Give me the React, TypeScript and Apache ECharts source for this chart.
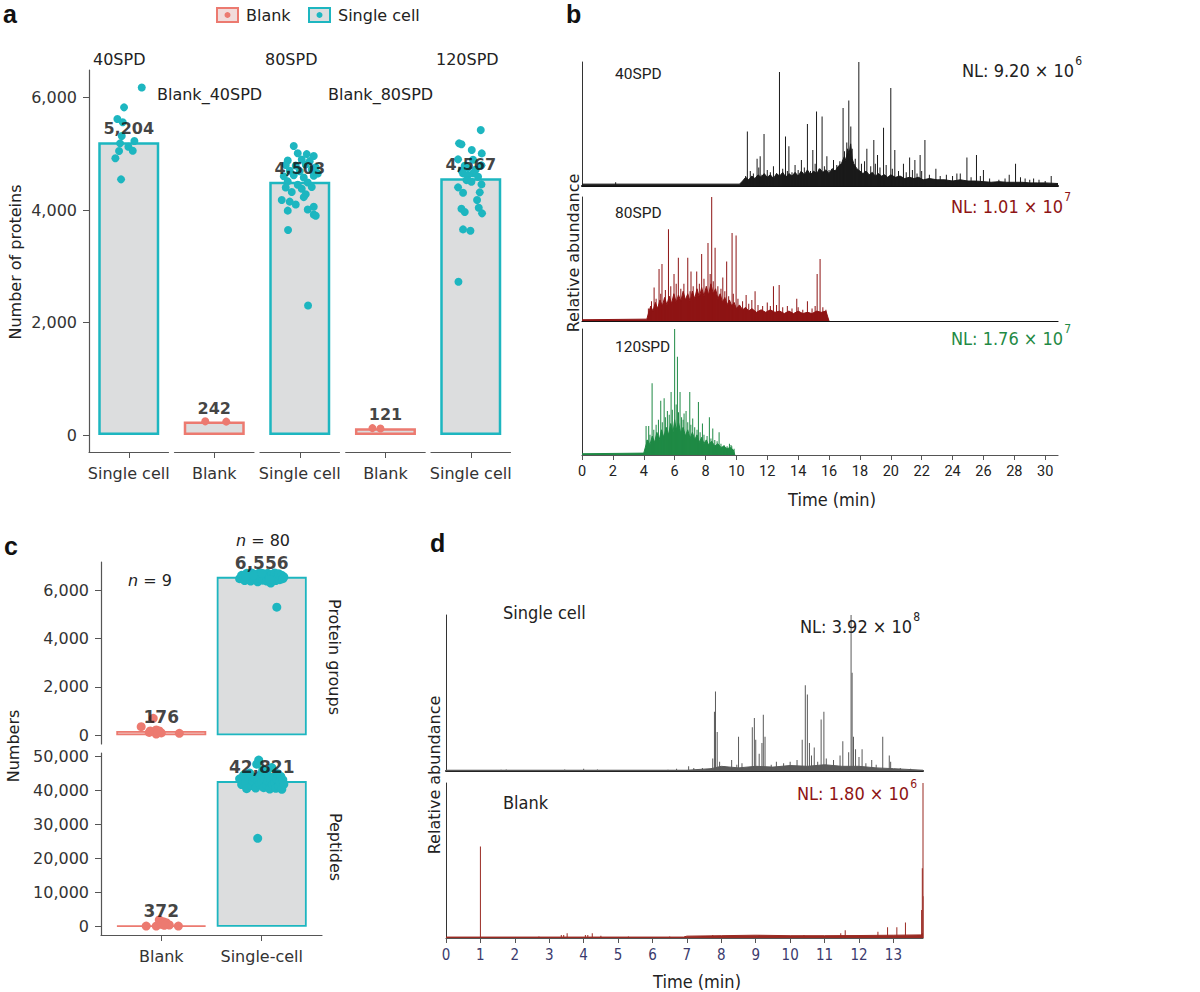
import React, { useEffect, useRef } from 'react';
import * as echarts from 'echarts';

// ---------- fonts & colours ----------
const FONT = '"DejaVu Sans", "Noto Sans", sans-serif';
const CFONT = '"Liberation Sans Narrow", "DejaVu Sans Condensed", "Roboto Condensed", Roboto, sans-serif';
const TFONT = 'Roboto, "Noto Sans", sans-serif';
const TEAL = '#1db6c0';
const SALMON = '#ec7a70';
const BARFILL = '#dcddde';

// ---------- panel a data ----------
const aCats = ['Single cell', 'Blank', 'Single cell', 'Blank', 'Single cell'];
const aStrips = ['40SPD', 'Blank_40SPD', '80SPD', 'Blank_80SPD', '120SPD'];
const aGroup = ['sc', 'blank', 'sc', 'blank', 'sc'];
const aBarValues = [5204, 242, 4503, 121, 4567];
const aTicks = [0, 2000, 4000, 6000];
// jitter offsets (px from bar centre), protein counts
const aDots40 = [[13, 6180], [-4.7, 5826], [-11.4, 5618], [-7, 5316], [5.6, 5227], [-8.7, 5186], [-0.4, 5126], [4, 5055], [-9.7, 5049], [-13.4, 4920], [-7.7, 4546], [-6, 5560]];
const aDotsBlank40 = [[-9, 245], [12, 240]];
const aDots80 = [[-6, 5138], [-2, 5010], [7, 4995], [14, 4960], [-12, 4880], [2, 4900], [10, 4870], [-14, 4800], [-4, 4790], [6, 4810], [16, 4760], [-10, 4700], [0, 4690], [12, 4720], [18, 4650], [-16, 4600], [-6, 4620], [4, 4580], [14, 4610], [-12, 4510], [8, 4490], [-2, 4450], [-14, 4400], [2, 4380], [12, 4410], [-8, 4320], [6, 4280], [-18, 4180], [-10, 4150], [4, 4230], [-4, 4100], [14, 4060], [-12, 3990], [8, 4010], [14, 3920], [16, 3900], [-11.7, 3645], [8.3, 2305]];
const aDotsBlank80 = [[-13, 125], [-5, 118]];
const aDots120 = [[10, 5422], [-11.7, 5186], [-9.3, 5169], [1, 5067], [11, 5008], [-12.7, 4902], [2.3, 4895], [-6, 4788], [10.7, 4795], [-3, 4750], [5, 4720], [-9, 4700], [-7.7, 4652], [-2.7, 4622], [2.3, 4652], [7.3, 4593], [-4.3, 4533], [0.7, 4503], [-12.7, 4404], [-7.7, 4308], [9, 4315], [10.7, 4457], [6.3, 4178], [-9.3, 4024], [-6, 3965], [8, 4041], [11.3, 3942], [-7.7, 3657], [-0.3, 3632], [-12.3, 2726]];
const aDots = [aDots40, aDotsBlank40, aDots80, aDotsBlank80, aDots120];

// ---------- panel b data (time in min, relative abundance %) ----------
const bTicks = [0, 2, 4, 6, 8, 10, 12, 14, 16, 18, 20, 22, 24, 26, 28, 30];
const b40Peaks = [[2.18, 3], [10.71, 44], [11.34, 22], [11.54, 24], [11.79, 42], [12.79, 92], [13.18, 40], [13.4, 32], [13.8, 17], [14.21, 21], [14.6, 50], [14.95, 29], [15.19, 60], [15.55, 56], [15.86, 24], [16.29, 21], [16.91, 63], [17.28, 69], [17.41, 48], [17.93, 100], [18.45, 30], [18.9, 37], [19.14, 25], [19.53, 47], [20.0, 79], [20.26, 29], [20.82, 18], [21.22, 23], [21.56, 21], [21.9, 25], [22.21, 37], [22.92, 14], [24.28, 10], [24.93, 23], [25.55, 25], [26.0, 13], [27.67, 9], [28.08, 18], [29.25, 6], [30.39, 8],
  [10.6, 8], [10.9, 12], [11.1, 10], [11.45, 15], [11.65, 9], [12.0, 13], [12.2, 11], [12.4, 16], [12.6, 10], [13.0, 14], [13.3, 12], [13.6, 11], [14.0, 13], [14.4, 15], [14.8, 12], [15.1, 18], [15.35, 14], [15.7, 16], [16.0, 13], [16.5, 17], [16.7, 20], [17.0, 28], [17.15, 35], [17.5, 30], [17.7, 22], [18.1, 18], [18.3, 20], [18.7, 16], [19.0, 18], [19.3, 15], [19.7, 17], [20.1, 14], [20.5, 12], [21.0, 11], [21.4, 13], [21.7, 10], [22.0, 12], [22.5, 9], [23.2, 8], [23.6, 9], [24.0, 8], [24.5, 10], [25.2, 7], [25.8, 8], [26.4, 6], [27.0, 5], [27.4, 6], [28.4, 7], [28.7, 6], [29.0, 5], [29.6, 5], [30.0, 4]];
const b40Base = [[0, 1.5], [10.2, 1.5], [10.4, 4], [10.6, 7], [10.8, 5], [11.0, 8], [11.2, 6], [11.4, 9], [11.6, 7], [11.8, 10], [12.0, 7], [12.2, 9], [12.4, 6], [12.6, 10], [12.8, 8], [13.0, 11], [13.2, 7], [13.4, 10], [13.6, 8], [13.8, 11], [14.0, 8], [14.2, 12], [14.4, 9], [14.6, 13], [14.8, 9], [15.0, 12], [15.2, 10], [15.4, 14], [15.6, 11], [15.8, 13], [16.0, 10], [16.2, 14], [16.4, 12], [16.6, 16], [16.8, 18], [17.0, 24], [17.1, 20], [17.2, 30], [17.3, 26], [17.4, 34], [17.5, 22], [17.6, 18], [17.8, 14], [18.0, 12], [18.2, 10], [18.4, 12], [18.6, 9], [18.8, 11], [19.0, 8], [19.2, 10], [19.4, 8], [19.6, 9], [19.8, 7], [20.0, 9], [20.3, 7], [20.6, 8], [20.9, 6], [21.2, 7], [21.5, 6], [21.8, 7], [22.1, 5], [22.5, 6], [23.0, 5], [23.5, 5], [24.0, 4], [24.5, 5], [25.0, 4], [25.5, 4], [26.0, 3.5], [26.5, 3], [27.0, 3.5], [27.5, 3], [28.0, 3], [28.5, 3], [29.0, 2.5], [29.5, 2.5], [30.0, 2.5], [30.83, 2]];
const b80Peaks = [[8.4, 100], [5.6, 74], [4.99, 42], [5.18, 46], [4.67, 27], [5.96, 38], [6.24, 51], [6.85, 51], [7.06, 40], [7.43, 40], [7.75, 54], [8.16, 63], [8.62, 59], [9.12, 35], [9.37, 48], [9.72, 71], [9.98, 69], [10.63, 21], [11.21, 24], [12.4, 28], [12.77, 29], [13.91, 18], [14.6, 16], [15.23, 38], [15.42, 50],
  [4.3, 10], [4.5, 16], [4.8, 18], [5.1, 22], [5.4, 25], [5.75, 28], [6.1, 30], [6.4, 26], [6.6, 30], [7.0, 24], [7.2, 28], [7.6, 30], [7.9, 34], [8.3, 38], [8.5, 32], [8.8, 28], [9.0, 26], [9.25, 24], [9.5, 20], [9.8, 22], [10.1, 18], [10.4, 16], [10.8, 14], [11.0, 17], [11.4, 13], [11.7, 12], [12.0, 15], [12.2, 12], [12.6, 13], [13.0, 11], [13.3, 12], [13.6, 10], [14.0, 11], [14.3, 9], [14.9, 10], [15.1, 12], [15.6, 11], [15.8, 9]];
const b80Base = [[0, 1], [4.2, 1.5], [4.3, 6], [4.45, 12], [4.6, 8], [4.75, 15], [4.9, 10], [5.05, 17], [5.2, 12], [5.35, 19], [5.5, 13], [5.65, 20], [5.8, 14], [5.95, 22], [6.1, 15], [6.25, 21], [6.4, 16], [6.55, 24], [6.7, 17], [6.85, 22], [7.0, 16], [7.15, 24], [7.3, 18], [7.45, 26], [7.6, 19], [7.75, 27], [7.9, 20], [8.05, 28], [8.2, 21], [8.35, 30], [8.5, 22], [8.65, 26], [8.8, 18], [8.95, 22], [9.1, 15], [9.25, 19], [9.4, 13], [9.55, 17], [9.7, 12], [9.85, 15], [10.0, 10], [10.2, 13], [10.4, 9], [10.6, 11], [10.8, 8], [11.0, 10], [11.3, 7], [11.6, 9], [11.9, 7], [12.2, 9], [12.5, 7], [12.8, 8], [13.1, 6], [13.4, 8], [13.7, 6], [14.0, 8], [14.3, 6], [14.6, 7], [14.9, 6], [15.2, 8], [15.5, 7], [15.8, 8], [15.9, 4], [16.0, 0]];
const b120Peaks = [[6.0, 100], [4.54, 57], [4.15, 23], [4.32, 23], [5.1, 43], [5.32, 45], [5.53, 35], [5.77, 50], [6.18, 78], [6.35, 50], [6.61, 33], [6.74, 35], [6.98, 50], [7.17, 29], [7.54, 42], [7.8, 25], [8.25, 30], [8.47, 21], [8.88, 18], [9.55, 9], [9.7, 7],
  [4.2, 12], [4.4, 16], [4.65, 20], [4.8, 24], [4.95, 28], [5.2, 26], [5.4, 30], [5.65, 32], [5.85, 36], [6.1, 40], [6.25, 34], [6.45, 30], [6.55, 28], [6.85, 26], [7.05, 24], [7.3, 22], [7.45, 20], [7.65, 18], [7.9, 16], [8.1, 15], [8.35, 13], [8.6, 12], [8.75, 11], [9.0, 9], [9.2, 8], [9.4, 7], [9.65, 8], [9.85, 5]];
const b120Base = [[0, 1], [4.0, 1.5], [4.1, 6], [4.25, 12], [4.4, 8], [4.55, 15], [4.7, 10], [4.85, 18], [5.0, 12], [5.15, 20], [5.3, 14], [5.45, 22], [5.6, 16], [5.75, 25], [5.9, 18], [6.0, 28], [6.1, 20], [6.25, 26], [6.4, 17], [6.55, 22], [6.7, 15], [6.85, 20], [7.0, 13], [7.15, 18], [7.3, 12], [7.45, 16], [7.6, 10], [7.75, 14], [7.9, 9], [8.05, 12], [8.2, 8], [8.4, 11], [8.6, 7], [8.8, 9], [9.0, 6], [9.2, 7], [9.4, 5], [9.6, 6], [9.8, 4], [9.9, 0]];

// ---------- panel c data ----------
const cCats = ['Blank', 'Single-cell'];
const cProtBars = [176, 6556];
const cPepBars = [372, 42821];
const cProtTicks = [0, 2000, 4000, 6000];
const cPepTicks = [0, 10000, 20000, 30000, 40000, 50000];
const cProtBlankDots = [[-0.2, 356], [-0.11, 178], [-0.05, 219], [-0.02, 178], [-0.05, 54], [0.18, 83], [-0.08, 703], [-0.12, 120], [0.0, 100]];
const cProtScDots = [[-0.22, 6480], [-0.2, 6620], [-0.18, 6550], [-0.17, 6400], [-0.15, 6700], [-0.14, 6500], [-0.12, 6600], [-0.11, 6380], [-0.1, 6720], [-0.09, 6550], [-0.07, 6450], [-0.06, 6650], [-0.05, 6520], [-0.04, 6350], [-0.03, 6700], [-0.02, 6600], [-0.01, 6480], [0, 6560], [0.01, 6420], [0.02, 6680], [0.03, 6530], [0.04, 6610], [0.05, 6380], [0.06, 6700], [0.07, 6490], [0.08, 6580], [0.09, 6300], [0.1, 6650], [0.11, 6460], [0.12, 6560], [0.13, 6720], [0.14, 6400], [0.15, 6600], [0.16, 6500], [0.17, 6680], [0.18, 6440], [0.19, 6560], [0.2, 6620], [0.21, 6480], [0.22, 6550], [-0.16, 6580], [-0.08, 6620], [0.0, 6700], [0.08, 6450], [0.15, 5300]];
const cPepBlankDots = [[-0.15, 200], [-0.05, 200], [0.02, 1470], [0.05, 1180], [-0.02, 1970], [0.08, 500], [0.17, 200], [0.0, 700], [0.03, 400]];
const cPepScDots = [[-0.22, 43500], [-0.2, 41800], [-0.18, 44600], [-0.16, 42500], [-0.15, 40600], [-0.13, 43800], [-0.12, 45200], [-0.1, 41500], [-0.09, 42900], [-0.08, 44000], [-0.06, 40800], [-0.05, 47800], [-0.04, 43200], [-0.03, 49000], [-0.02, 41900], [-0.01, 44800], [0, 42400], [0.01, 46200], [0.02, 40900], [0.03, 43600], [0.04, 45500], [0.05, 41600], [0.06, 42800], [0.07, 44300], [0.08, 40500], [0.09, 43000], [0.1, 46800], [0.11, 41800], [0.12, 44000], [0.13, 42300], [0.14, 40700], [0.15, 43400], [0.16, 45000], [0.17, 41400], [0.18, 42600], [0.19, 44200], [0.2, 40400], [0.21, 43200], [0.22, 41900], [-0.04, 26000]];

// ---------- panel d data ----------
const dTicks = [0, 1, 2, 3, 4, 5, 6, 7, 8, 9, 10, 11, 12, 13];
const dScPeaks = [[1.6, 0.8], [1.75, 1], [3.45, 1], [4.0, 1.5], [4.4, 1], [5.9, 0.6], [6.45, 0.8], [6.7, 1.5], [7.05, 3], [7.2, 2], [7.45, 2], [7.75, 8], [7.8, 38], [7.83, 51], [7.88, 25], [7.95, 6], [8.1, 3], [8.3, 7], [8.45, 4], [8.5, 22], [8.6, 5], [8.9, 28], [8.96, 34], [9.0, 20], [9.1, 11], [9.18, 18], [9.22, 36], [9.27, 22], [9.45, 4], [9.6, 6], [9.81, 5], [10.0, 6], [10.2, 7], [10.35, 20], [10.44, 55], [10.5, 49], [10.56, 18], [10.62, 10], [10.7, 15], [10.8, 6], [10.9, 33], [10.98, 38], [11.05, 8], [11.26, 7], [11.45, 10], [11.53, 19], [11.7, 12], [11.77, 100], [11.8, 63], [11.84, 22], [11.9, 14], [12.0, 9], [12.09, 14], [12.2, 5], [12.37, 7], [12.5, 4], [12.69, 22], [12.88, 10], [12.92, 6], [13.2, 2], [13.5, 1.5]];
const dScBase = [[0, 0.5], [7, 0.5], [7.7, 1.5], [8, 3], [8.5, 2], [9, 3], [9.5, 2.5], [10, 3.5], [10.5, 3], [11, 4], [11.5, 3], [12, 3], [12.5, 2], [13, 1.5], [13.86, 0.5]];
const dBlankPeaks = [[1.0, 59], [13.86, 100], [13.84, 45], [13.88, 27], [13.82, 18], [13.35, 10], [13.1, 7], [12.83, 7], [12.55, 4], [11.6, 5], [11.47, 3], [10.4, 2], [9.1, 2], [7.75, 2], [3.35, 2], [3.42, 2], [3.52, 3], [4.05, 2], [4.12, 2], [4.25, 3], [4.5, 1.5], [2.7, 1], [5.3, 1], [6.5, 1]];
const dBlankBase = [[0, 0.6], [6.9, 0.6], [7, 1.2], [8, 1.5], [9, 1.8], [10, 1.5], [11, 1.5], [12, 1.6], [13, 1.8], [13.8, 2], [13.86, 3]];

const fmt = (v: number) => v.toLocaleString('en-US');

function buildOption(): any {
  const grid: any[] = [];
  const xAxis: any[] = [];
  const yAxis: any[] = [];
  const series: any[] = [];
  const G = (left: number, top: number, width: number, height: number) =>
    ({ left, top, width, height, containLabel: false, outerBoundsMode: 'none' });

  // ---------- panel a ----------
  const aLefts = [89, 174.5, 260, 345.7, 431];
  aLefts.forEach((l, i) => {
    grid.push(G(l, 70, 79.5, 382));
    xAxis.push({
      gridIndex: i, type: 'value', min: -39.75, max: 39.75,
      axisLine: { show: true, onZero: false, lineStyle: { color: '#555', width: 1.2 } },
      axisTick: { show: true, customValues: [0], length: 6, lineStyle: { color: '#555' } },
      axisLabel: { show: true, customValues: [0], formatter: () => aCats[i], fontSize: 16, color: '#333', margin: 13, fontFamily: FONT },
      splitLine: { show: false },
    });
    yAxis.push({
      gridIndex: i, type: 'value', min: -300, max: 6490, show: i === 0,
      axisLine: { show: true, onZero: false, lineStyle: { color: '#555', width: 1.2 } },
      axisTick: { show: true, customValues: aTicks, length: 6, lineStyle: { color: '#555' } },
      axisLabel: { show: true, customValues: aTicks, formatter: (v: number) => fmt(v), fontSize: 16, color: '#333', margin: 12, fontFamily: FONT },
      splitLine: { show: false },
    });
    const col = aGroup[i] === 'sc' ? TEAL : SALMON;
    const v = aBarValues[i];
    series.push({ type: 'bar', xAxisIndex: i, yAxisIndex: i, data: [[0, v]], barWidth: 61, itemStyle: { color: BARFILL, borderColor: col, borderWidth: 2.5 }, z: 1, silent: true });
    series.push({ type: 'scatter', xAxisIndex: i, yAxisIndex: i, data: aDots[i], symbolSize: 8, itemStyle: { color: col, opacity: 1 }, z: 2, silent: true });
    series.push({
      type: 'scatter', xAxisIndex: i, yAxisIndex: i, data: [[0, v]], symbolSize: 1, itemStyle: { color: 'rgba(0,0,0,0)' }, z: 5, silent: true,
      label: { show: true, position: 'top', distance: 5, formatter: () => fmt(v), fontFamily: FONT, fontWeight: 'bold', fontSize: 16, color: '#111' },
    });
  });

  // ---------- panel b ----------
  const chrom = (idx: number, peaks: number[][], base: number[][], color: string) => {
    series.push({ type: 'line', xAxisIndex: idx, yAxisIndex: idx, data: base, symbol: 'none', lineStyle: { color, width: 1 }, areaStyle: { color, opacity: 1 }, z: 2, silent: true });
    series.push({ type: 'bar', xAxisIndex: idx, yAxisIndex: idx, data: peaks, barWidth: 1, itemStyle: { color }, z: 3, silent: true });
  };
  const bTops = [62, 197, 329];
  const bHeights = [124, 124, 126];
  const bColors = ['#1a1a1a', '#8e1414', '#1f8a45'];
  const bData = [[b40Peaks, b40Base], [b80Peaks, b80Base], [b120Peaks, b120Base]];
  bTops.forEach((t, k) => {
    const idx = 5 + k;
    grid.push(G(582, t, 476, bHeights[k]));
    const last = k === 2;
    xAxis.push({
      gridIndex: idx, type: 'value', min: 0, max: 30.83,
      axisLine: { show: true, onZero: false, lineStyle: { color: last ? '#555' : '#111', width: k === 0 ? 2 : 1.2 } },
      axisTick: { show: last, customValues: bTicks, length: 5, lineStyle: { color: '#555' } },
      axisLabel: { show: last, customValues: bTicks, fontSize: 14.5, color: '#222', margin: 9, fontFamily: TFONT },
      splitLine: { show: false },
    });
    yAxis.push({
      gridIndex: idx, type: 'value', min: 0, max: 100,
      axisLine: { show: true, onZero: false, lineStyle: { color: '#333', width: 1 } },
      axisTick: { show: false }, axisLabel: { show: false }, splitLine: { show: false },
    });
    chrom(idx, bData[k][0], bData[k][1], bColors[k]);
  });

  // ---------- panel c ----------
  const cBars = [cProtBars, cPepBars];
  const cTicks = [cProtTicks, cPepTicks];
  const cRanges = [[-360, 7170], [-2440, 51090]];
  const cTops = [562, 753];
  const cBlankDots = [cProtBlankDots, cPepBlankDots];
  const cScDots = [cProtScDots, cPepScDots];
  [0, 1].forEach((k) => {
    const idx = 8 + k;
    const last = k === 1;
    grid.push(G(101, cTops[k], 221, 182));
    xAxis.push({
      gridIndex: idx, type: 'value', min: 0.4, max: 2.6,
      axisLine: { show: last, onZero: false, lineStyle: { color: '#555', width: 1.2 } },
      axisTick: { show: last, customValues: [1, 2], length: 6, lineStyle: { color: '#555' } },
      axisLabel: { show: last, customValues: [1, 2], formatter: (v: number) => cCats[Math.round(v) - 1], fontSize: 16, color: '#333', margin: 13, fontFamily: FONT },
      splitLine: { show: false },
    });
    yAxis.push({
      gridIndex: idx, type: 'value', min: cRanges[k][0], max: cRanges[k][1],
      axisLine: { show: true, onZero: false, lineStyle: { color: '#555', width: 1.2 } },
      axisTick: { show: true, customValues: cTicks[k], length: 6, lineStyle: { color: '#555' } },
      axisLabel: { show: true, customValues: cTicks[k], formatter: (v: number) => fmt(v), fontSize: 16, color: '#333', margin: 12, fontFamily: FONT },
      splitLine: { show: false },
    });
    series.push({
      type: 'bar', xAxisIndex: idx, yAxisIndex: idx, barWidth: 90, z: 1, silent: true,
      data: [
        { value: [1, cBars[k][0]], itemStyle: { color: '#f1dcdb', borderColor: SALMON, borderWidth: 1.8 } },
        { value: [2, cBars[k][1]], itemStyle: { color: BARFILL, borderColor: TEAL, borderWidth: 1.8 } },
      ],
    });
    series.push({ type: 'scatter', xAxisIndex: idx, yAxisIndex: idx, data: cBlankDots[k].map((d) => [1 + d[0], d[1]]), symbolSize: 9, itemStyle: { color: SALMON, opacity: 1 }, z: 2, silent: true });
    series.push({ type: 'scatter', xAxisIndex: idx, yAxisIndex: idx, data: cScDots[k].map((d) => [2 + d[0], d[1]]), symbolSize: 9, itemStyle: { color: TEAL, opacity: 1 }, z: 2, silent: true });
    series.push({
      type: 'scatter', xAxisIndex: idx, yAxisIndex: idx, data: [[1, cBars[k][0]], [2, cBars[k][1]]], symbolSize: 1, itemStyle: { color: 'rgba(0,0,0,0)' }, z: 5, silent: true,
      label: { show: true, position: 'top', distance: 5, formatter: (p: any) => fmt(p.value[1]), fontFamily: FONT, fontWeight: 'bold', fontSize: 17, color: '#111' },
    });
  });

  // ---------- panel d ----------
  const dTops = [615, 783];
  const dHeights = [156, 155];
  const dColors = ['#5a5a5a', '#9a2a22'];
  const dData = [[dScPeaks, dScBase], [dBlankPeaks, dBlankBase]];
  [0, 1].forEach((k) => {
    const idx = 10 + k;
    const last = k === 1;
    grid.push(G(446, dTops[k], 477, dHeights[k]));
    xAxis.push({
      gridIndex: idx, type: 'value', min: 0, max: 13.86,
      axisLine: { show: true, onZero: false, lineStyle: { color: last ? '#555' : '#222', width: last ? 1.2 : 2 } },
      axisTick: { show: last, customValues: dTicks, length: 5, lineStyle: { color: '#555' } },
      axisLabel: { show: last, customValues: dTicks, fontSize: 15, color: '#3b3b6d', margin: 9, fontFamily: CFONT },
      splitLine: { show: false },
    });
    yAxis.push({
      gridIndex: idx, type: 'value', min: 0, max: 100,
      axisLine: { show: true, onZero: false, lineStyle: { color: '#333', width: 1 } },
      axisTick: { show: false }, axisLabel: { show: false }, splitLine: { show: false },
    });
    chrom(idx, dData[k][0], dData[k][1], dColors[k]);
  });

  // ---------- graphic texts ----------
  const T = (text: string, x: number, y: number, o: any = {}) => ({
    type: 'text', x, y, rotation: o.rotation || 0, z: 100, silent: true,
    style: {
      text, fill: o.fill || '#222', fontSize: o.fontSize || 16, fontFamily: o.fontFamily || FONT,
      fontWeight: o.fontWeight || 'normal', align: o.align || 'left', verticalAlign: 'middle', rich: o.rich,
    },
  });
  const NL = (base: string, exp: string, x: number, y: number, fill: string) => T(`{a|${base}}{s|${exp}}`, x, y, {
    align: 'right', fill,
    rich: {
      a: { fontSize: 18, fontFamily: CFONT, fill, lineHeight: 24, verticalAlign: 'bottom' },
      s: { fontSize: 12, fontFamily: CFONT, fill, lineHeight: 24, verticalAlign: 'top', padding: [0, 0, 0, 1] },
    },
  });
  const letter = (t: string, x: number, y: number) => T(t, x, y, { fontSize: 25, fontWeight: 'bold', fontFamily: '"Liberation Sans", Arial, sans-serif', fill: '#111' });

  const graphic: any[] = [
    letter('a', 3, 14), letter('b', 566, 14), letter('c', 4, 546), letter('d', 430, 543),
    // legend
    { type: 'rect', shape: { x: 217, y: 8, width: 21, height: 14 }, style: { fill: '#f1dcdb', stroke: SALMON, lineWidth: 2 }, z: 100 },
    { type: 'circle', shape: { cx: 227.5, cy: 15, r: 3 }, style: { fill: SALMON }, z: 101 },
    T('Blank', 246, 15),
    { type: 'rect', shape: { x: 309, y: 8, width: 21, height: 14 }, style: { fill: BARFILL, stroke: TEAL, lineWidth: 2 }, z: 100 },
    { type: 'circle', shape: { cx: 319.5, cy: 15, r: 3 }, style: { fill: TEAL }, z: 101 },
    T('Single cell', 338, 15),
    // panel a strips
    T(aStrips[0], 93, 59), T(aStrips[2], 265, 59), T(aStrips[4], 436, 59),
    T(aStrips[1], 157, 94), T(aStrips[3], 328, 94),
    T('Number of proteins', 15, 262, { rotation: Math.PI / 2, align: 'center' }),
    // panel b
    T('Relative abundance', 573, 253, { rotation: Math.PI / 2, align: 'center' }),
    T('40SPD', 615, 74, { fontFamily: TFONT, fontSize: 15.5 }),
    T('80SPD', 615, 213, { fontFamily: TFONT, fontSize: 15.5 }),
    T('120SPD', 615, 347, { fontFamily: TFONT, fontSize: 15.5 }),
    NL('NL: 9.20 × 10', '6', 1082, 67, '#222'),
    NL('NL: 1.01 × 10', '7', 1071, 203, '#8e1414'),
    NL('NL: 1.76 × 10', '7', 1071, 335, '#1f8a45'),
    T('Time (min)', 832, 499, { fontFamily: CFONT, fontSize: 18, align: 'center' }),
    // panel c
    T('{i|n} = 80', 263, 540, { align: 'center', rich: { i: { fontStyle: 'italic', fontSize: 16, fontFamily: FONT, fill: '#222' } } }),
    T('{i|n} = 9', 128, 580, { rich: { i: { fontStyle: 'italic', fontSize: 16, fontFamily: FONT, fill: '#222' } } }),
    T('Protein groups', 334, 657, { rotation: -Math.PI / 2, align: 'center' }),
    T('Peptides', 335, 847, { rotation: -Math.PI / 2, align: 'center' }),
    T('Numbers', 13, 746, { rotation: Math.PI / 2, align: 'center' }),
    // panel d
    T('Relative abundance', 434, 775, { rotation: Math.PI / 2, align: 'center' }),
    T('Single cell', 503, 612, { fontFamily: CFONT, fontSize: 18 }),
    T('Blank', 503, 802, { fontFamily: CFONT, fontSize: 18 }),
    NL('NL: 3.92 × 10', '8', 920, 623, '#222'),
    NL('NL: 1.80 × 10', '6', 917, 790, '#8e1414'),
    T('Time (min)', 697, 981, { fontFamily: CFONT, fontSize: 18, align: 'center' }),
  ];

  return { animation: false, backgroundColor: '#fff', grid, xAxis, yAxis, series, graphic, tooltip: { show: false } };
}

export default function App() {
  const ref = useRef<HTMLDivElement>(null);
  useEffect(() => {
    const chart = echarts.init(ref.current as HTMLDivElement, null, { renderer: 'svg' });
    chart.setOption(buildOption());
    return () => chart.dispose();
  }, []);
  return <div ref={ref} style={{ position: 'absolute', left: 0, top: 0, width: 1200, height: 992, background: '#fff' }} />;
}
